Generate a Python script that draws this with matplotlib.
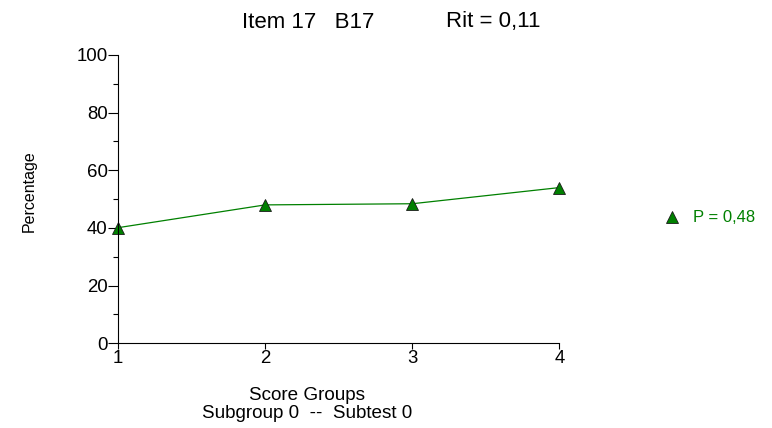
import matplotlib.pyplot as plt
from matplotlib.ticker import MultipleLocator

plt.rcParams['font.family'] = ['Liberation Sans', 'DejaVu Sans']

groups = [1, 2, 3, 4]
percentage = [40.1, 48.0, 48.4, 54.0]
legend_label = 'P = 0,48'

fig = plt.figure(figsize=(7.72, 4.28), dpi=100)
ax = fig.add_axes([0.153, 0.198, 0.5715, 0.6735])

ax.plot(groups, percentage, color='#008000', lw=0.9, marker='^', ms=8.5,
        mfc='#008000', mec='#1a1a1a', mew=0.6, label=legend_label, clip_on=False)

ax.set_xlim(1, 4)
ax.set_ylim(0, 100)
ax.set_xticks(groups)
ax.yaxis.set_major_locator(MultipleLocator(20))
ax.yaxis.set_minor_locator(MultipleLocator(10))
ax.tick_params(axis='y', which='major', length=7.2, width=0.8, labelsize=13.4, pad=0.3)
ax.tick_params(axis='y', which='minor', length=3.6, width=0.8)
ax.tick_params(axis='x', length=4, width=0.8, labelsize=13.4, pad=1)
for s in ['top', 'right']:
    ax.spines[s].set_visible(False)

# title pieces, placed by their left edges
fig.text(242 / 772, 1 - 22 / 428, 'Item 17   B17', ha='left', va='center', fontsize=16)
fig.text(446 / 772, 1 - 22 / 428, 'Rit = 0,11', ha='left', va='center', fontsize=16)
fig.text(29 / 772, 1 - 191 / 428, 'Percentage', rotation=90, ha='center', va='center', fontsize=11.5)
fig.text(307 / 772, 1 - 395 / 428, 'Score Groups', ha='center', va='center', fontsize=13.6)
fig.text(307 / 772, 1 - 413 / 428, 'Subgroup 0  --  Subtest 0', ha='center', va='center', fontsize=13.6)

leg = fig.legend(loc='center left', bbox_to_anchor=(649 / 772, 1 - 218 / 428), frameon=False,
                 fontsize=12, handlelength=1.0, handletextpad=0.76, numpoints=1)
for t in leg.get_texts():
    t.set_color('#008000')
for h in leg.legend_handles:
    h.set_linestyle('none')

fig.savefig('out.png', dpi=100)
